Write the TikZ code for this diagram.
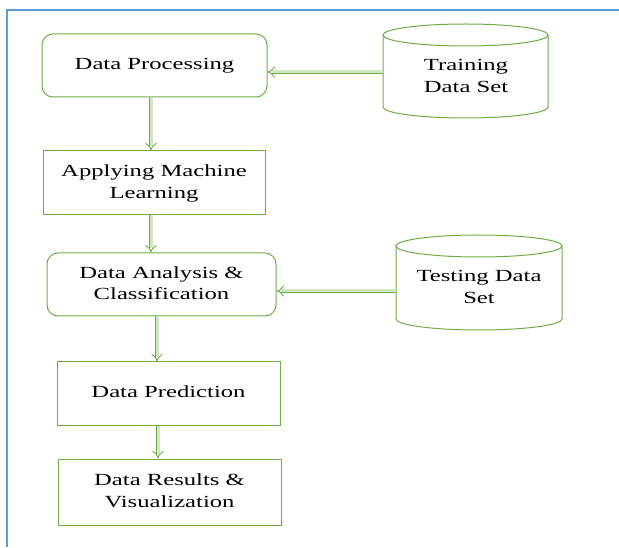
\documentclass[tikz,border=0pt]{standalone}
\usepackage{fontspec}
\setmainfont{Liberation Serif}
\usepackage{graphicx}
\usetikzlibrary{arrows.meta}
\definecolor{gline}{HTML}{70AD47}
\definecolor{gfill}{HTML}{D0E6C3}
\definecolor{bframe}{HTML}{5B9BD5}
\newcommand{\lbl}[1]{\scalebox{1.45}[1]{\begin{tabular}{@{}c@{}}#1\end{tabular}}}
\tikzset{
  txt/.style={inner sep=0pt, text=black, font=\fontsize{17}{21.5}\selectfont},
  boxr/.style={draw=gline, line width=1pt, inner sep=0pt},
  rbox/.style={boxr, rounded corners=11pt},
  dblarrow/.style={draw=gline, line width=0.9pt, double=gfill, double distance=3pt, -{Implies}},
  cyl/.style={draw=gline, line width=1pt},
}
\begin{document}
\begin{tikzpicture}[x=1pt,y=1pt]
\useasboundingbox[fill=white] (0,0) rectangle (619,547);
% frame
\draw[bframe, line width=2.5pt] (7,0) -- (7,537) -- (619,537);
% boxes
\node[rbox, minimum width=225pt, minimum height=63pt] (dp) at (154.5,481.5) {};
\node[txt] (dpt) at (dp) {\lbl{Data Processing}};
\node[boxr, minimum width=222pt, minimum height=64pt] (aml) at (154,364) {};
\node[txt] (amlt) at (aml) {\lbl{Applying Machine\\Learning}};
\node[rbox, minimum width=229pt, minimum height=63pt] (dac) at (161.5,262.5) {};
\node[txt] (dact) at (dac) {\lbl{Data Analysis \&\\Classification}};
\node[boxr, minimum width=223pt, minimum height=63pt] (dpr) at (168.5,153.5) {};
\node[txt] (dprt) at (dpr) {\lbl{Data Prediction}};
\node[boxr, minimum width=223pt, minimum height=66pt] (drv) at (169.5,55) {};
\node[txt] (drvt) at (drv) {\lbl{Data Results \&\\Visualization}};
% cylinders
\draw[cyl] (383,512) -- (383,440) arc[start angle=180, end angle=360, x radius=82.5, y radius=11] -- (548,512);
\draw[cyl] (465.5,512) ellipse [x radius=82.5, y radius=11];
\node[txt] (train) at (466,470) {\lbl{Training\\Data Set}};
\coordinate (trainL) at (383,475);
\draw[cyl] (396,301) -- (396,228) arc[start angle=180, end angle=360, x radius=83, y radius=11] -- (562,301);
\draw[cyl] (479,301) ellipse [x radius=83, y radius=11];
\node[txt] (test) at (479,259) {\lbl{Testing Data\\Set}};
\coordinate (testL) at (396,256);
% arrows
\draw[dblarrow] (trainL) -- (dp.east |- trainL);
\draw[dblarrow] (testL) -- (dac.east |- testL);
\draw[dblarrow] (dp.south -| 151,0) -- (aml.north -| 151,0);
\draw[dblarrow] (aml.south -| 151,0) -- (dac.north -| 151,0);
\draw[dblarrow] (dac.south -| 157,0) -- (dpr.north -| 157,0);
\draw[dblarrow] (dpr.south -| 158,0) -- (drv.north -| 158,0);
\end{tikzpicture}
\end{document}
